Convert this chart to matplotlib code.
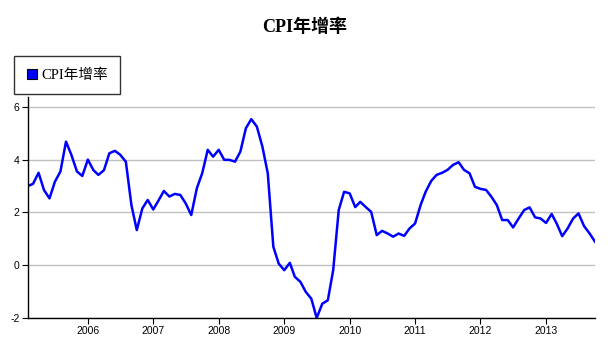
import matplotlib.pyplot as plt
from matplotlib.lines import Line2D
import pandas as pd

# monthly CPI year-over-year growth (%), Feb 2005 .. Oct 2013
cpi_2005 = [3.0, 3.08, 3.5, 2.85, 2.53, 3.16, 3.55, 4.68, 4.18, 3.55, 3.38]
cpi_2006 = [4.0, 3.6, 3.42, 3.6, 4.24, 4.33, 4.18, 3.92, 2.28, 1.33, 2.15, 2.47]
cpi_2007 = [2.11, 2.47, 2.81, 2.6, 2.7, 2.66, 2.34, 1.9, 2.91, 3.48, 4.37, 4.11]
cpi_2008 = [4.37, 3.99, 3.99, 3.92, 4.3, 5.19, 5.53, 5.25, 4.49, 3.48, 0.7, 0.06]
cpi_2009 = [-0.19, 0.09, -0.44, -0.63, -1.01, -1.27, -2.0, -1.46, -1.33, -0.19, 2.09, 2.78]
cpi_2010 = [2.72, 2.2, 2.4, 2.2, 2.02, 1.14, 1.3, 1.2, 1.08, 1.2, 1.11, 1.39]
cpi_2011 = [1.58, 2.28, 2.78, 3.19, 3.42, 3.5, 3.61, 3.8, 3.9, 3.61, 3.48, 2.97]
cpi_2012 = [2.89, 2.85, 2.6, 2.28, 1.71, 1.71, 1.43, 1.77, 2.09, 2.19, 1.81, 1.77]
cpi_2013 = [1.6, 1.94, 1.58, 1.1, 1.39, 1.77, 1.96, 1.48, 1.2, 0.89]

cpi = cpi_2005 + cpi_2006 + cpi_2007 + cpi_2008 + cpi_2009 + cpi_2010 + cpi_2011 + cpi_2012 + cpi_2013
dates = pd.date_range('2005-02-01', periods=len(cpi), freq='MS')

years = [2006, 2007, 2008, 2009, 2010, 2011, 2012, 2013]
yticks = [-2, 0, 2, 4, 6]

label = 'CPI年增率'
cjk = ['Liberation Serif', 'Noto Sans CJK SC']

fig = plt.figure(figsize=(6.1, 3.43), dpi=100)
ax = fig.add_axes([28 / 610, 25 / 343, 567 / 610, 221 / 343])

ax.plot(dates, cpi, color='#0000ff', lw=1.8)

ax.set_xlim(dates[0], dates[-1])
ax.set_ylim(-2, 6.37)
ax.set_xticks([pd.Timestamp(f'{y}-01-01') for y in years])
ax.set_xticklabels([str(y) for y in years])
ax.set_yticks(yticks)
ax.set_yticklabels([str(t) for t in yticks])
ax.tick_params(labelsize=7.5, length=4, width=0.8, pad=2, colors='black')
ax.grid(axis='y', color='#c0c0c0', lw=1)
ax.set_axisbelow(True)
for s in ['top', 'right']:
    ax.spines[s].set_visible(False)
for s in ['left', 'bottom']:
    ax.spines[s].set_linewidth(1)
    ax.spines[s].set_color('black')

for t in ax.get_xticklabels() + ax.get_yticklabels():
    t.set_family('Liberation Sans')

fig.text(0.5, 1 - 27 / 343, label, ha='center', va='center',
         fontsize=13, fontweight='bold', family=cjk)

handle = Line2D([], [], ls='none', marker='s', markersize=7,
                markerfacecolor='#0000ff', markeredgecolor='black', markeredgewidth=0.8)
leg = fig.legend([handle], [label], loc='upper left',
                 bbox_to_anchor=(14 / 610, 1 - 56 / 343),
                 prop={'family': cjk, 'size': 10.5},
                 frameon=True, fancybox=False, shadow=False, borderaxespad=0,
                 handlelength=0.7, handletextpad=0.3, borderpad=0.85)
leg.get_frame().set_edgecolor('black')
leg.get_frame().set_linewidth(1)

fig.savefig('out.png', dpi=100)
